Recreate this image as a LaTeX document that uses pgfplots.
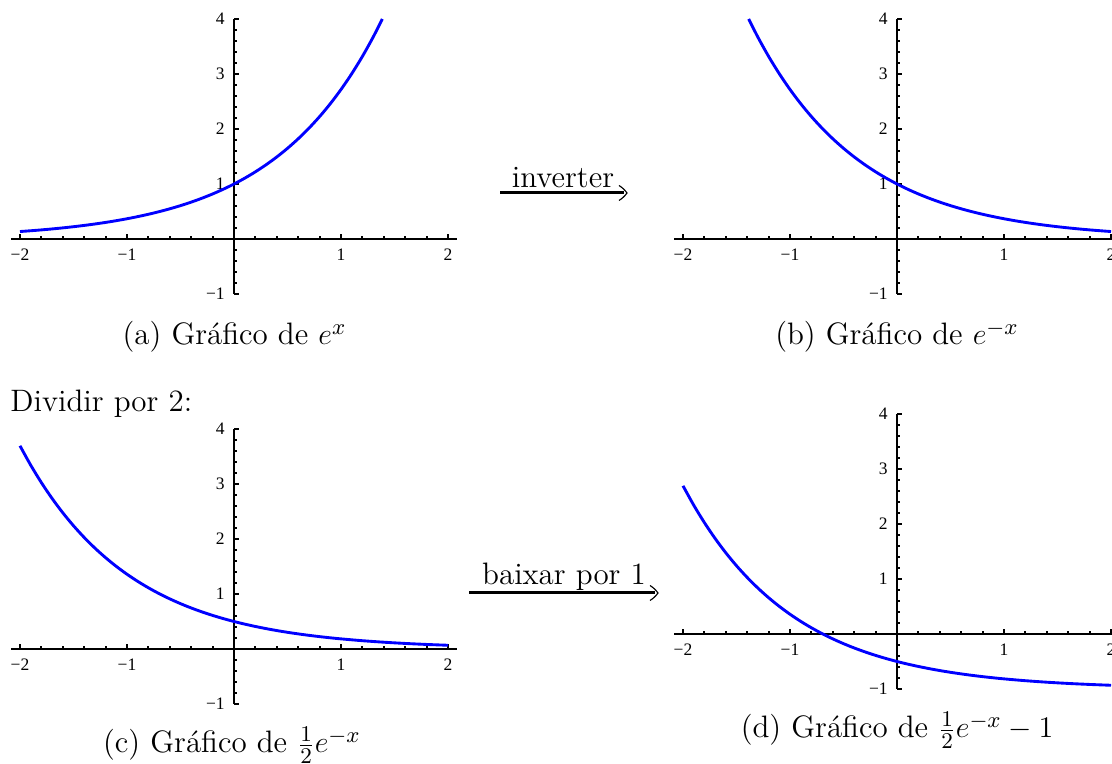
\documentclass[border=0pt]{standalone}
\usepackage{fontspec}
\usepackage{pgfplots}
\pgfplotsset{compat=1.18}
\newfontfamily\tickfamily{Liberation Serif}
\newcommand\tickfont{\tickfamily\fontsize{7pt}{8pt}\selectfont}
\newcommand\capfont{\fontsize{12.4pt}{15pt}\selectfont}

\pgfplotsset{
  expgraph/.style={
    scale only axis, width=178.05pt, height=110pt,
    xmin=-2.08, xmax=2.08, ymin=-1, ymax=4,
    axis lines=middle,
    axis line style={line width=0.9pt, -},
    xtick={-2,-1,0,1,2}, xticklabels={−2,−1,,1,2},
    ytick={-1,0,1,2,3,4}, yticklabels={−1,,1,2,3,4},
    minor x tick num=4, minor y tick num=4,
    tick align=inside,
    major tick length=2pt, minor tick length=1.2pt,
    tick style={line width=0.8pt, black},
    tick label style={font=\tickfont},
    xticklabel style={yshift=-0.3pt},
    yticklabel style={xshift=-0.2pt},
    anchor=origin,
  },
  curve/.style={blue, line width=1.15pt, smooth, no marks},
}

\begin{document}
\begin{tikzpicture}[x=0.4pt, y=0.4pt]
% where the origin of each graph sits
\coordinate (oa) at (234,525);
\coordinate (ob) at (897,525);
\coordinate (oc) at (234,115);
\coordinate (od) at (897,130);

% (a) e^x
\begin{axis}[expgraph, at={(oa)}]
\addplot[curve] coordinates {
(-2.0,0.1353) (-1.9,0.1496) (-1.8,0.1653) (-1.7,0.1827) (-1.6,0.2019)
(-1.5,0.2231) (-1.4,0.2466) (-1.3,0.2725) (-1.2,0.3012) (-1.1,0.3329)
(-1.0,0.3679) (-0.9,0.4066) (-0.8,0.4493) (-0.7,0.4966) (-0.6,0.5488)
(-0.5,0.6065) (-0.4,0.6703) (-0.3,0.7408) (-0.2,0.8187) (-0.1,0.9048)
(0.0,1.0000) (0.1,1.1052) (0.2,1.2214) (0.3,1.3499) (0.4,1.4918)
(0.5,1.6487) (0.6,1.8221) (0.7,2.0138) (0.8,2.2255) (0.9,2.4596)
(1.0,2.7183) (1.1,3.0042) (1.2,3.3201) (1.3,3.6693) (1.386,4.0000)
};
\end{axis}

% (b) e^{-x}
\begin{axis}[expgraph, at={(ob)}]
\addplot[curve] coordinates {
(-1.386,4.0000) (-1.3,3.6693) (-1.2,3.3201) (-1.1,3.0042) (-1.0,2.7183)
(-0.9,2.4596) (-0.8,2.2255) (-0.7,2.0138) (-0.6,1.8221) (-0.5,1.6487)
(-0.4,1.4918) (-0.3,1.3499) (-0.2,1.2214) (-0.1,1.1052) (0.0,1.0000)
(0.1,0.9048) (0.2,0.8187) (0.3,0.7408) (0.4,0.6703) (0.5,0.6065)
(0.6,0.5488) (0.7,0.4966) (0.8,0.4493) (0.9,0.4066) (1.0,0.3679)
(1.1,0.3329) (1.2,0.3012) (1.3,0.2725) (1.4,0.2466) (1.5,0.2231)
(1.6,0.2019) (1.7,0.1827) (1.8,0.1653) (1.9,0.1496) (2.0,0.1353)
};
\end{axis}

% (c) e^{-x}/2
\begin{axis}[expgraph, at={(oc)}]
\addplot[curve] coordinates {
(-2.0,3.6945) (-1.9,3.3431) (-1.8,3.0250) (-1.7,2.7370) (-1.6,2.4765)
(-1.5,2.2408) (-1.4,2.0276) (-1.3,1.8346) (-1.2,1.6601) (-1.1,1.5021)
(-1.0,1.3591) (-0.9,1.2298) (-0.8,1.1128) (-0.7,1.0069) (-0.6,0.9111)
(-0.5,0.8244) (-0.4,0.7459) (-0.3,0.6749) (-0.2,0.6107) (-0.1,0.5526)
(0.0,0.5000) (0.1,0.4524) (0.2,0.4094) (0.3,0.3704) (0.4,0.3352)
(0.5,0.3033) (0.6,0.2744) (0.7,0.2483) (0.8,0.2247) (0.9,0.2033)
(1.0,0.1839) (1.2,0.1506) (1.4,0.1233) (1.6,0.1009) (1.8,0.0826)
(2.0,0.0677)
};
\end{axis}

% (d) e^{-x}/2 - 1
\begin{axis}[expgraph, at={(od)}]
\addplot[curve] coordinates {
(-2.0,2.6945) (-1.9,2.3431) (-1.8,2.0250) (-1.7,1.7370) (-1.6,1.4765)
(-1.5,1.2408) (-1.4,1.0276) (-1.3,0.8346) (-1.2,0.6601) (-1.1,0.5021)
(-1.0,0.3591) (-0.9,0.2298) (-0.8,0.1128) (-0.7,0.0069) (-0.6,-0.0889)
(-0.5,-0.1756) (-0.4,-0.2541) (-0.3,-0.3251) (-0.2,-0.3893) (-0.1,-0.4474)
(0.0,-0.5000) (0.1,-0.5476) (0.2,-0.5906) (0.3,-0.6296) (0.4,-0.6648)
(0.5,-0.6967) (0.6,-0.7256) (0.7,-0.7517) (0.8,-0.7753) (0.9,-0.7967)
(1.0,-0.8161) (1.2,-0.8494) (1.4,-0.8767) (1.6,-0.8991) (1.8,-0.9174)
(2.0,-0.9323)
};
\end{axis}

% captions
\node[anchor=base, font=\capfont] at (234.5,419) {(a) Gráfico de $e^{x}$};
\node[anchor=base, font=\capfont] at (897,419) {(b) Gráfico de $e^{-x}$};
\node[anchor=base, font=\capfont] at (232,11) {(c) Gráfico de $\frac{1}{2}e^{-x}$};
\node[anchor=base, font=\capfont] at (897,26) {(d) Gráfico de $\frac{1}{2}e^{-x}-1$};
\node[anchor=base west, font=\capfont, inner sep=0pt] at (10,352) {Dividir por 2:};

% transformation arrows
\node[anchor=base, font=\capfont, inner sep=0pt] at (563,576) {inverter};
\draw[line width=1.2pt] (500,571) -- (624,571);
\draw[line width=0.45pt] (619,578.5) to[bend left=10] (627,571) to[bend left=10] (619,563.5);

\node[anchor=base, font=\capfont, inner sep=0pt] at (564,179) {baixar por 1};
\draw[line width=1.2pt] (469,171) -- (655,171);
\draw[line width=0.45pt] (650,178.5) to[bend left=10] (658,171) to[bend left=10] (650,163.5);

\pgfresetboundingbox
\useasboundingbox (0,0) rectangle (1112,764);
\end{tikzpicture}
\end{document}
